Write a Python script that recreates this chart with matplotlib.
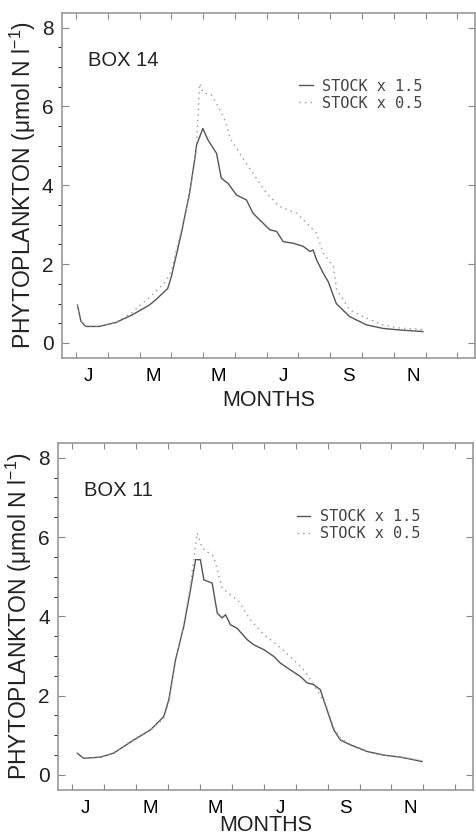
import matplotlib
matplotlib.use("Agg")
import matplotlib.pyplot as plt
from matplotlib.ticker import MultipleLocator

plt.rcParams['font.family'] = ['Liberation Sans', 'DejaVu Sans']

# months since 1 Jan (x) and phytoplankton (umol N/l)
box14_hi_t = [0.04, 0.15, 0.3, 0.73, 1.25, 1.78, 2.3, 2.5, 2.88, 3.0, 3.31, 3.57, 3.73, 3.79,
              3.99, 4.15, 4.42, 4.57, 4.78, 5.05, 5.36, 5.57, 5.78, 6.1, 6.31, 6.52, 6.83,
              7.15, 7.36, 7.46, 7.57, 7.78, 7.94, 8.19, 8.61, 9.14, 9.66, 10.19, 10.92]
box14_hi_v = [0.96, 0.55, 0.42, 0.42, 0.52, 0.72, 0.96, 1.09, 1.38, 1.69, 2.78, 3.8, 4.64, 5.02,
              5.44, 5.15, 4.81, 4.18, 4.05, 3.75, 3.63, 3.29, 3.12, 2.87, 2.83, 2.57, 2.53,
              2.45, 2.32, 2.36, 2.11, 1.77, 1.55, 1.0, 0.67, 0.46, 0.37, 0.33, 0.29]

box14_lo_t = [0.04, 0.15, 0.3, 0.73, 1.25, 1.78, 2.0, 2.3, 2.5, 2.83, 3.0, 3.31, 3.57, 3.78,
              3.89, 4.0, 4.26, 4.42, 4.73, 4.84, 5.15, 5.57, 5.99, 6.41, 6.94, 7.26, 7.57,
              7.78, 8.1, 8.2, 8.61, 9.14, 9.66, 10.19, 10.92]
box14_lo_v = [0.96, 0.55, 0.42, 0.42, 0.52, 0.78, 0.95, 1.15, 1.31, 1.56, 1.85, 2.85, 3.75, 4.9,
              6.58, 6.35, 6.29, 6.08, 5.57, 5.2, 4.81, 4.3, 3.8, 3.46, 3.29, 3.04, 2.78,
              2.28, 1.94, 1.36, 0.84, 0.63, 0.46, 0.38, 0.34]

box11_hi_t = [0.15, 0.35, 0.88, 1.29, 1.92, 2.45, 2.86, 3.02, 3.23, 3.49, 3.7, 3.86, 4.01, 4.12,
              4.38, 4.54, 4.69, 4.8, 4.95, 5.16, 5.48, 5.69, 6.0, 6.31, 6.52, 6.83, 7.15,
              7.36, 7.56, 7.77, 7.98, 8.19, 8.4, 8.71, 9.24, 9.76, 10.28, 10.96]
box11_hi_v = [0.55, 0.42, 0.45, 0.55, 0.88, 1.14, 1.47, 1.89, 2.9, 3.75, 4.67, 5.43, 5.43, 4.92,
              4.84, 4.08, 3.96, 4.04, 3.79, 3.7, 3.41, 3.28, 3.16, 2.99, 2.82, 2.65, 2.48,
              2.32, 2.28, 2.15, 1.64, 1.14, 0.88, 0.76, 0.59, 0.5, 0.45, 0.34]

box11_lo_t = [0.15, 0.35, 0.88, 1.29, 1.92, 2.45, 2.86, 3.02, 3.23, 3.49, 3.7, 3.91, 4.07, 4.43,
              4.69, 5.21, 5.58, 6.0, 6.42, 6.94, 7.3, 7.7, 7.98, 8.19, 8.4, 8.71, 9.24,
              9.76, 10.28, 10.96]
box11_lo_v = [0.55, 0.42, 0.45, 0.55, 0.9, 1.14, 1.42, 1.85, 2.85, 3.8, 4.8, 6.1, 5.72, 5.51,
              4.71, 4.38, 3.91, 3.54, 3.28, 2.9, 2.61, 2.1, 1.7, 1.2, 0.92, 0.78, 0.6,
              0.5, 0.45, 0.36]

month_labels = ['J', 'M', 'M', 'J', 'S', 'N']
series_labels = ['STOCK x 1.5', 'STOCK x 0.5']

fig = plt.figure(figsize=(4.76, 8.36), dpi=100)
ax1 = fig.add_axes([0.130, 0.5718, 0.868, 0.4127])
ax2 = fig.add_axes([0.122, 0.055, 0.872, 0.415])


def style(ax, title, xpad):
    ax.set_xlim(-0.45, 12.56)
    ax.set_ylim(-0.38, 8.37)
    ax.set_xticks(range(13))
    ax.set_xticklabels([])
    ax.set_xticks([0.4 + 2.04 * i for i in range(6)], month_labels, minor=True)
    ax.set_yticks([0, 2, 4, 6, 8])
    ax.yaxis.set_minor_locator(MultipleLocator(0.5))
    ax.tick_params(direction='in', top=True, right=True, colors='#888', labelcolor='#222')
    ax.tick_params(axis='x', which='major', length=4)
    ax.tick_params(axis='x', which='minor', length=0, pad=7, labelsize=13.5)
    ax.tick_params(axis='y', which='major', length=5, labelsize=15, pad=6)
    ax.tick_params(axis='y', which='minor', length=3)
    for sp in ax.spines.values():
        sp.set_color('#999')
        sp.set_linewidth(1.2)
    ax.set_xlabel('MONTHS', fontsize=15.5, color='#222', labelpad=xpad)
    ax.set_ylabel(r'PHYTOPLANKTON ($\mathregular{\mu}$mol N l$^{\mathregular{-1}}$)',
                  fontsize=16.5, color='#222', labelpad=3)
    ax.text(0.063, 0.862, title, transform=ax.transAxes, fontsize=14.5,
            color='#222', va='center', ha='left')
    leg = ax.legend(loc='upper left', bbox_to_anchor=(0.575, 0.81), frameon=False,
                    borderpad=0, borderaxespad=0, handlelength=0.9, handletextpad=0.6,
                    labelspacing=0.15, prop={'family': 'DejaVu Sans Mono', 'size': 11})
    for txt in leg.get_texts():
        txt.set_color('#444')


ax1.plot(box14_hi_t, box14_hi_v, color='#555', lw=1.0, label=series_labels[0])
ax1.plot(box14_lo_t, box14_lo_v, color='#999', lw=1.0, ls=(0, (1, 3)), label=series_labels[1])
style(ax1, 'BOX 14', 4)

ax2.plot(box11_hi_t, box11_hi_v, color='#555', lw=1.0, label=series_labels[0])
ax2.plot(box11_lo_t, box11_lo_v, color='#999', lw=1.0, ls=(0, (1, 3)), label=series_labels[1])
style(ax2, 'BOX 11', -1)

fig.savefig('out.png', dpi=100)
